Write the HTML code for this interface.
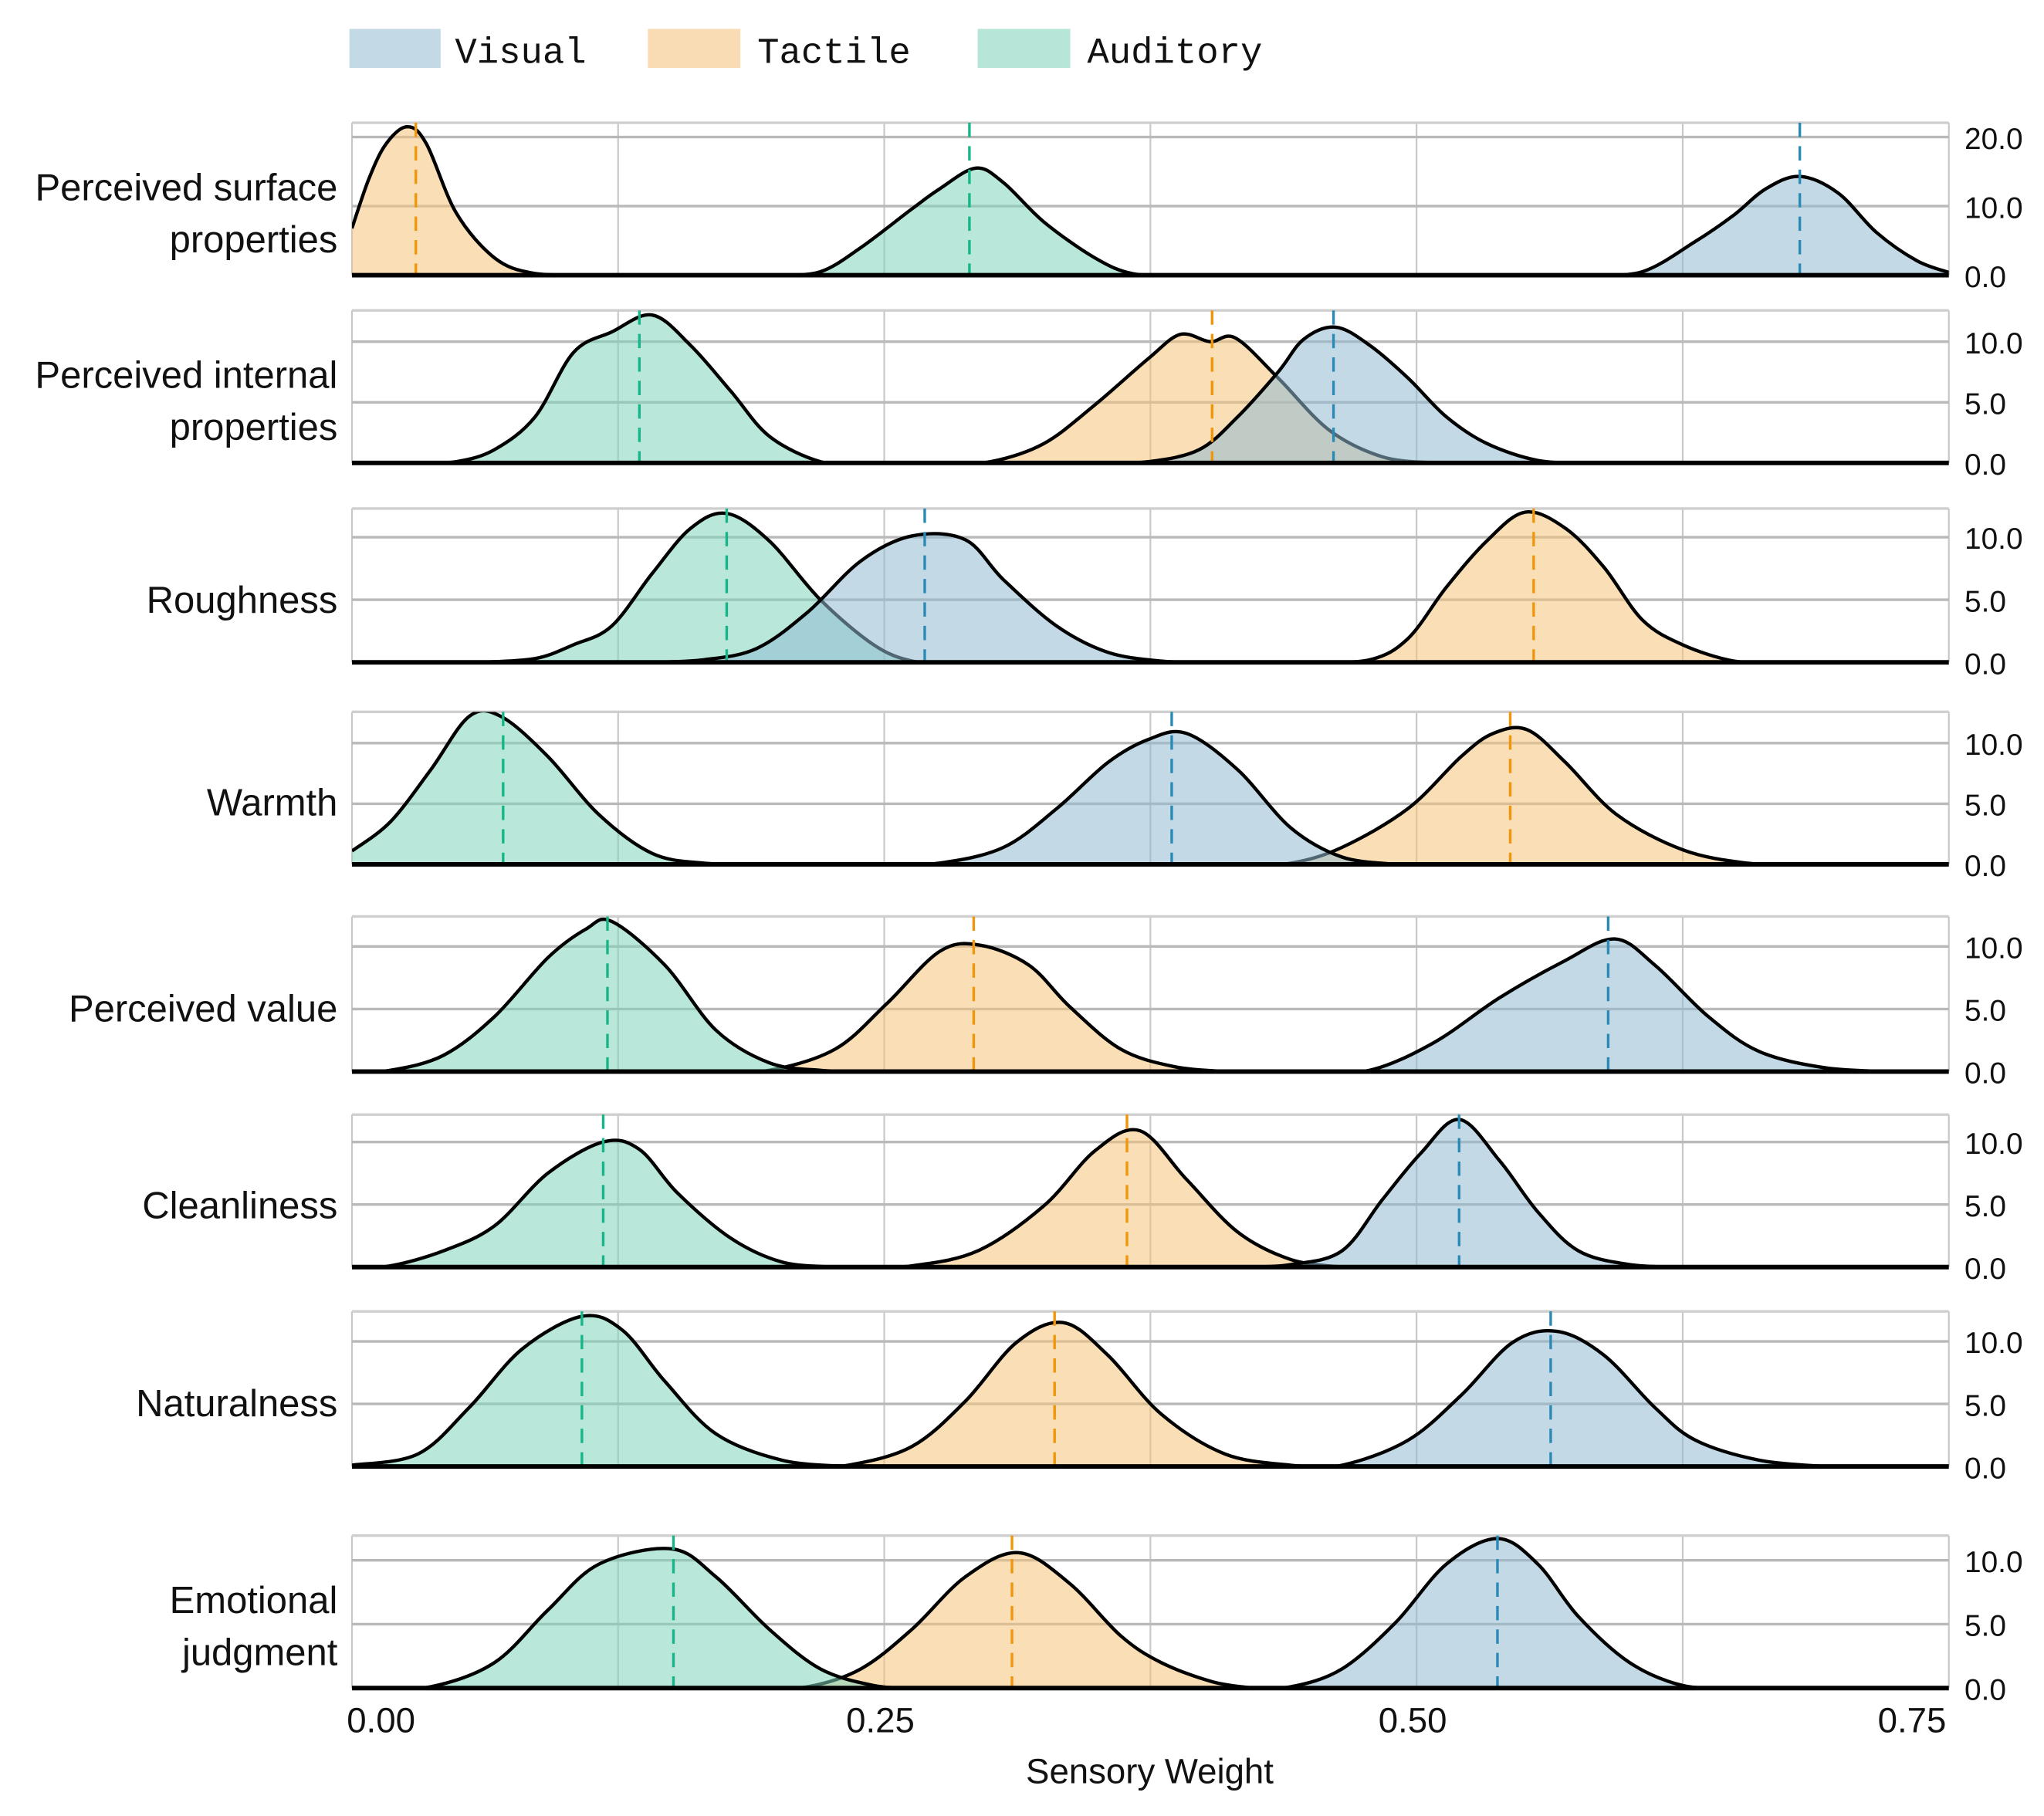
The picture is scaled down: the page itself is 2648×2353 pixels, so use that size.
<!DOCTYPE html>
<html><head><meta charset="utf-8"><style>
html,body{margin:0;padding:0;background:#fff}
svg{display:block}
</style></head><body>
<svg id="chart" xmlns="http://www.w3.org/2000/svg" width="2648" height="2353" viewBox="0 0 1568 1393">
<defs id="defs"></defs>
<g id="legend">
  <g><rect x="268" y="22" width="70" height="30" fill="#c3dae6"/><text x="349" y="48" font-family="Liberation Mono, monospace" font-size="28" fill="#111">Visual</text></g>
  <g><rect x="497" y="22" width="71" height="30" fill="#fadcb4"/><text x="581" y="48" font-family="Liberation Mono, monospace" font-size="28" fill="#111">Tactile</text></g>
  <g><rect x="750" y="22" width="71" height="30" fill="#b5e6d8"/><text x="834" y="48" font-family="Liberation Mono, monospace" font-size="28" fill="#111">Auditory</text></g>
</g>
<g id="panels"></g>
<g id="xaxis"></g>
<text x="882" y="1368" text-anchor="middle" font-family="Liberation Sans, sans-serif" font-size="27" fill="#111">Sensory Weight</text>
</svg>
<script>
// ---- data ----
const panelLabels = [["Perceived surface","properties"],["Perceived internal","properties"],["Roughness"],["Warmth"],["Perceived value"],["Cleanliness"],["Naturalness"],["Emotional","judgment"]];
const yTickLabels = [[0,10,20],[0,5,10],[0,5,10],[0,5,10],[0,5,10],[0,5,10],[0,5,10],[0,5,10]];
const xTickValues = [0, 0.25, 0.5, 0.75];
const xTickLabels = ["0.00","0.25","0.50","0.75"];
const seriesNames = ["tactile","auditory","visual"];
// means (dashed lines) per panel: [tactile, auditory, visual]
const means = [[0.030,0.290,0.680],[0.404,0.135,0.461],[0.555,0.176,0.269],[0.544,0.071,0.385],[0.292,0.120,0.590],[0.364,0.118,0.520],[0.330,0.108,0.563],[0.310,0.151,0.538]];
// density samples: x values and y values per panel per series
const densX = [
 [[0,0.008,0.016,0.026,0.035,0.049,0.067,0.085,0.11],[0.200,0.220,0.239,0.263,0.276,0.293,0.306,0.325,0.349,0.367,0.39],[0.58,0.606,0.631,0.649,0.664,0.680,0.698,0.716,0.735,0.750]],
 [[0.28,0.300,0.325,0.349,0.374,0.389,0.403,0.415,0.435,0.459,0.484,0.508],[0.03,0.049,0.067,0.086,0.104,0.122,0.141,0.159,0.178,0.196,0.220,0.24],[0.35,0.374,0.398,0.416,0.435,0.447,0.462,0.478,0.496,0.514,0.533,0.557,0.58]],
 [[0.45,0.478,0.496,0.514,0.533,0.551,0.570,0.588,0.606,0.625,0.649,0.67],[0.06,0.086,0.104,0.122,0.141,0.159,0.176,0.196,0.220,0.245,0.263,0.28],[0.14,0.165,0.190,0.214,0.239,0.263,0.288,0.306,0.331,0.355,0.380,0.40]],
 [[0.42,0.441,0.465,0.496,0.521,0.536,0.552,0.570,0.594,0.625,0.655,0.68],[0,0.018,0.037,0.055,0.070,0.092,0.116,0.141,0.165,0.19],[0.25,0.276,0.306,0.331,0.355,0.374,0.392,0.416,0.441,0.465,0.490]],
 [[0.17,0.196,0.227,0.251,0.276,0.295,0.318,0.337,0.361,0.386,0.410],[0.0,0.018,0.043,0.067,0.092,0.110,0.122,0.147,0.171,0.196,0.220,0.24],[0.45,0.478,0.508,0.539,0.569,0.593,0.612,0.637,0.661,0.692,0.723]],
 [[0.24,0.263,0.294,0.325,0.349,0.370,0.392,0.416,0.441,0.465],[0.0,0.018,0.043,0.067,0.092,0.118,0.135,0.153,0.178,0.202,0.227],[0.42,0.441,0.465,0.484,0.502,0.520,0.539,0.557,0.576,0.600,0.625]],
 [[0.21,0.233,0.263,0.288,0.312,0.334,0.355,0.380,0.410,0.441,0.46],[0,0.031,0.055,0.080,0.108,0.127,0.147,0.171,0.202,0.233],[0.44,0.465,0.496,0.521,0.545,0.566,0.588,0.612,0.631,0.661,0.692]],
 [[0.19,0.214,0.239,0.263,0.288,0.313,0.337,0.361,0.380,0.404,0.423],[0.01,0.037,0.067,0.092,0.116,0.150,0.171,0.196,0.220,0.245,0.263],[0.42,0.441,0.465,0.490,0.514,0.538,0.557,0.576,0.600,0.625,0.649]]
];
const densY = [
 [[6.8,14,19,21.5,19,9,2.5,0.3,0],[0,0.5,4,9.6,12.5,15.5,13.4,7.7,2.5,0.2,0],[0,0.5,4.9,8.7,12.5,14.3,11.9,6.2,2.1,0.4]],
 [[0,0.1,1.6,4.8,8.6,10.6,10.0,10.3,7.0,2.7,0.5,0],[0,0.1,1.1,3.8,9.1,10.8,12.2,9.7,5.9,2.2,0.1,0],[0,0.1,1.1,3.8,7.5,10.2,11.2,9.7,7.0,3.8,1.6,0.2,0]],
 [[0,0.2,1.9,6.0,9.7,12.0,10.7,7.6,3.4,1.4,0.1,0],[0,0.3,1.4,2.9,7.1,10.7,11.9,9.7,5.0,1.4,0.1,0],[0,0.2,1.1,4.0,8.1,10.1,9.8,6.6,2.9,0.8,0.1,0]],
 [[0,0.1,1.4,4.6,8.9,10.8,11.1,8.4,4.1,1.2,0.1,0],[1.1,3.5,7.8,12.2,12.2,8.9,4.1,0.9,0.1,0],[0,0.1,1.4,4.6,8.4,10.3,10.8,7.8,3.0,0.6,0]],
 [[0,0.1,1.8,5.4,9.6,10.1,8.5,5.2,1.8,0.4,0],[0,0.1,1.3,4.4,9.1,11.4,12.0,8.5,3.3,0.7,0.1,0],[0,0.1,2.3,5.9,8.8,10.6,8.5,4.4,1.6,0.3,0]],
 [[0,0.1,1.3,4.9,9.3,10.9,7.0,2.8,0.6,0],[0,0.1,1.3,3.3,7.5,10.0,9.4,5.9,2.3,0.4,0],[0,0.2,1.3,5.4,9.1,11.8,8.5,4.4,1.3,0.2,0]],
 [[0,0.1,1.6,5.2,9.9,11.5,8.9,4.2,1.0,0.1,0],[0.1,1.0,4.7,9.4,12.0,10.9,6.8,2.6,0.5,0],[0,0.1,2.1,5.7,9.9,10.8,8.9,4.7,2.1,0.5,0]],
 [[0,0.1,1.5,4.6,8.7,10.6,8.2,4.1,2.0,0.5,0],[0,0.1,2.0,6.1,9.7,10.9,8.7,4.6,1.5,0.2,0],[0,0.1,1.5,5.1,9.7,11.7,9.7,5.6,2.0,0.2,0]]
];
// ---- layout ----
const X0 = 270, X1 = 1495, XMAX = 0.75;
const panelTop = [94,238,390,546,703,855,1006,1178];
const panelBase = [211,355,508,663,822,972,1125,1295];
const pxPerUnit = [5.3,9.3,9.6,9.3,9.6,9.6,9.6,9.8];
const fills = {visual:"#91bcd2", tactile:"#f5c27a", auditory:"#7fd5bd"};
const dashCol = {visual:"#2a8ab5", tactile:"#f0960a", auditory:"#17b587"};
const NS = "http://www.w3.org/2000/svg";
const xs = v => X0 + v/XMAX*(X1-X0);
function mk(tag, attrs, parent){const e=document.createElementNS(NS,tag);for(const k in attrs)e.setAttribute(k,attrs[k]);parent.appendChild(e);return e;}
function smoothPath(pts){
  let d = "M"+pts[0][0].toFixed(2)+","+pts[0][1].toFixed(2);
  for(let i=0;i<pts.length-1;i++){
    const p0=pts[Math.max(0,i-1)],p1=pts[i],p2=pts[i+1],p3=pts[Math.min(pts.length-1,i+2)];
    const c1=[p1[0]+(p2[0]-p0[0])/6,p1[1]+(p2[1]-p0[1])/6];
    const c2=[p2[0]-(p3[0]-p1[0])/6,p2[1]-(p3[1]-p1[1])/6];
    d+=" C"+c1[0].toFixed(2)+","+c1[1].toFixed(2)+" "+c2[0].toFixed(2)+","+c2[1].toFixed(2)+" "+p2[0].toFixed(2)+","+p2[1].toFixed(2);
  }
  return d;
}
const svg=document.getElementById("chart"), panels=document.getElementById("panels"), defs=document.getElementById("defs");
const font="Liberation Sans, sans-serif";
for(let p=0;p<panelTop.length;p++){
  const top=panelTop[p], base=panelBase[p], k=pxPerUnit[p];
  const ys = v => base - v*k;
  const g=mk("g",{},panels);
  
  
  const cp=mk("clipPath",{id:"clip"+p},defs);
  mk("rect",{x:X0,y:top,width:X1-X0,height:base-top+1},cp);
  for(let v=0;v<=XMAX+1e-9;v+=0.125){
    const l=mk("line",{x1:xs(v),x2:xs(v),y1:top,y2:base,stroke:"#c8c8c8","stroke-width":1.3},g);
    
    
  }
  mk("line",{x1:X0,x2:X1,y1:top,y2:top,stroke:"#cfcfcf","stroke-width":2},g);
  yTickLabels[p].forEach(v=>{
    if(v>0){const l=mk("line",{x1:X0,x2:X1,y1:ys(v),y2:ys(v),stroke:"#b9b9b9","stroke-width":2},g);
      
      }
    const t=mk("text",{x:1507,y:ys(v)+9,"font-family":font,"font-size":23,fill:"#111"},g);
    t.textContent=v.toFixed(1);
    
    
  });
  const cg=mk("g",{"clip-path":"url(#clip"+p+")"},g);
  seriesNames.forEach((s,si)=>{
    const pts=densX[p][si].map((x,i)=>[xs(x),ys(densY[p][si][i])]);
    const d=smoothPath(pts);
    const area=mk("path",{d:d+" L"+pts[pts.length-1][0]+","+base+" L"+pts[0][0]+","+base+" Z",fill:fills[s],"fill-opacity":0.55,stroke:"none"},cg);
    
    
    mk("path",{d:d,fill:"none",stroke:"#000","stroke-width":2.6,"stroke-linejoin":"round"},cg);
  });
  seriesNames.forEach((s,si)=>{
    const l=mk("line",{x1:xs(means[p][si]),x2:xs(means[p][si]),y1:top,y2:base,stroke:dashCol[s],"stroke-width":2,"stroke-dasharray":"11,7"},g);
    
    
  });
  mk("line",{x1:X0,x2:X1,y1:base,y2:base,stroke:"#000","stroke-width":3.5},g);
  const lines=panelLabels[p], mid=(top+base)/2+21;
  lines.forEach((txt,i)=>{
    const t=mk("text",{x:259,y:mid+(i-(lines.length-1)/2)*40,"text-anchor":"end","font-family":font,"font-size":29,fill:"#111"},g);
    t.textContent=txt;
    
    
  });
}
const xa=document.getElementById("xaxis");
xTickValues.forEach((v,i)=>{
  const anchor = i===0?"start":(i===xTickValues.length-1?"end":"middle");
  const xx = i===0?266:(i===xTickValues.length-1?1493:xs(v)-3);
  const t=mk("text",{x:xx,y:1329,"text-anchor":anchor,"font-family":font,"font-size":27,fill:"#111"},xa);
  t.textContent=xTickLabels[i];
  
  
});
</script>
</body></html>
